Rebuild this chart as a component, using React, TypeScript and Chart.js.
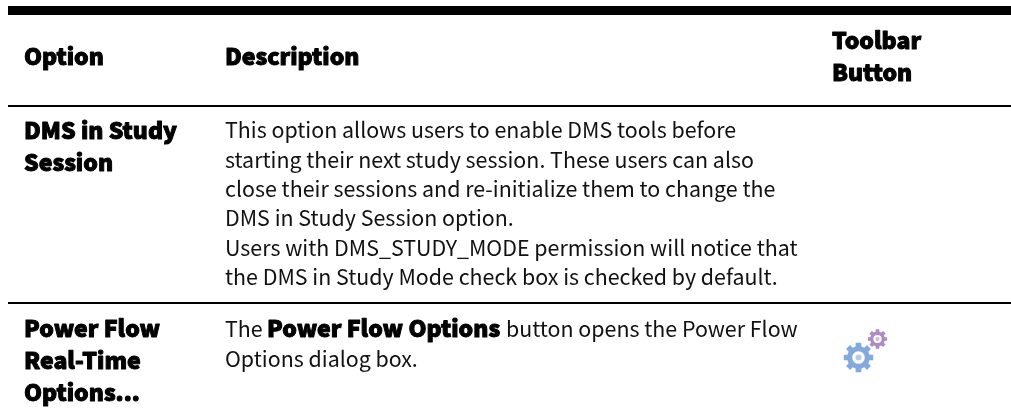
import React, { useEffect, useRef } from "react";
import { Chart, registerables } from "chart.js";

Chart.register(...registerables);

const FONT = '"Noto Sans CJK JP"';
const REG = `400 21.4px ${FONT}`;
const HEAD = `900 23px ${FONT}`;

const ruleYs = [10.5, 106, 303];
const ruleWidths = [9, 2, 2];
const headerTexts = [
  { t: "Option", x: 24, y: 65 },
  { t: "Description", x: 225, y: 65 },
  { t: "Toolbar", x: 832, y: 49 },
  { t: "Button", x: 832, y: 81 },
];
const labelTexts = [
  { t: "DMS in Study", x: 24, y: 138.5 },
  { t: "Session", x: 24, y: 171 },
  { t: "Power Flow", x: 24, y: 337 },
  { t: "Real-Time", x: 24, y: 369 },
  { t: "Options...", x: 24, y: 401 },
  { t: "Power Flow Options", x: 267, y: 337 },
];
const bodyTexts = [
  { t: "This option allows users to enable DMS tools before", x: 225, y: 138 },
  { t: "starting their next study session. These users can also", x: 225, y: 167.5 },
  { t: "close their sessions and re-initialize them to change the", x: 225, y: 197 },
  { t: "DMS in Study Session option.", x: 225, y: 226 },
  { t: "Users with DMS_STUDY_MODE permission will notice that", x: 225, y: 255.5 },
  { t: "the DMS in Study Mode check box is checked by default.", x: 225, y: 285 },
  { t: "The", x: 225, y: 337 },
  { t: "button opens the Power Flow", x: 506, y: 337 },
  { t: "Options dialog box.", x: 225, y: 367 },
];
const gears = [
  { x: 858.5, y: 357.5, r: 15, teeth: 8, color: "#84a9dd" },
  { x: 877.5, y: 339, r: 9.8, teeth: 8, color: "#ab8cc4" },
];

function gear(ctx: CanvasRenderingContext2D, cx: number, cy: number, r: number, teeth: number, color: string) {
  ctx.save();
  ctx.translate(cx, cy);
  ctx.fillStyle = color;
  ctx.beginPath();
  const inner = r * 0.76;
  const step = (Math.PI * 2) / teeth;
  for (let i = 0; i < teeth; i++) {
    const a = i * step - Math.PI / 2;
    const w = step * 0.24;
    ctx.lineTo(Math.cos(a - w * 1.35) * inner, Math.sin(a - w * 1.35) * inner);
    ctx.lineTo(Math.cos(a - w) * r, Math.sin(a - w) * r);
    ctx.lineTo(Math.cos(a + w) * r, Math.sin(a + w) * r);
    ctx.lineTo(Math.cos(a + w * 1.35) * inner, Math.sin(a + w * 1.35) * inner);
  }
  ctx.closePath();
  ctx.moveTo(r * 0.42, 0);
  ctx.arc(0, 0, r * 0.42, 0, Math.PI * 2, true);
  ctx.fill("evenodd");
  ctx.beginPath();
  ctx.globalAlpha = 0.6;
  ctx.arc(0, 0, r * 0.2, 0, Math.PI * 2);
  ctx.fill();
  ctx.restore();
}

const tablePlugin = {
  id: "tablePlugin",
  afterDatasetsDraw(chart: any) {
    const { ctx, scales } = chart;
    const px = (v: number) => scales.x.getPixelForValue(v);
    const py = (v: number) => scales.y.getPixelForValue(v);
    ctx.save();
    ctx.fillStyle = "#000";
    ctx.strokeStyle = "#000";
    ctx.lineWidth = 1;
    ctx.lineJoin = "round";
    ctx.textBaseline = "alphabetic";
    ctx.textAlign = "left";
    ctx.font = HEAD;
    [...headerTexts, ...labelTexts].forEach((d) => {
      ctx.strokeText(d.t, px(d.x), py(d.y));
      ctx.fillText(d.t, px(d.x), py(d.y));
    });
    ctx.font = REG;
    ctx.fillStyle = "#111";
    bodyTexts.forEach((d) => ctx.fillText(d.t, px(d.x), py(d.y)));
    gears.forEach((g) => gear(ctx, px(g.x), py(g.y), g.r, g.teeth, g.color));
    ctx.restore();
  },
};

export default function App() {
  const ref = useRef<HTMLCanvasElement>(null);
  useEffect(() => {
    const chart = new Chart(ref.current!, {
      type: "scatter",
      data: {
        datasets: ruleYs.map((y, i) => ({
          data: [{ x: 8, y }, { x: 1011, y }],
          showLine: true,
          borderColor: "#000",
          borderWidth: ruleWidths[i],
          pointRadius: 0,
        })),
      },
      options: {
        animation: false,
        responsive: false,
        layout: { padding: 0 },
        plugins: { legend: { display: false }, tooltip: { enabled: false } },
        scales: {
          x: { type: "linear", min: 0, max: 1011, display: false },
          y: { type: "linear", min: 0, max: 420, reverse: true, display: false },
        },
      },
      plugins: [tablePlugin],
    } as any);
    return () => chart.destroy();
  }, []);
  return (
    <canvas
      ref={ref}
      width={1011}
      height={420}
      style={{ position: "fixed", left: 0, top: 0, display: "block" }}
    />
  );
}
